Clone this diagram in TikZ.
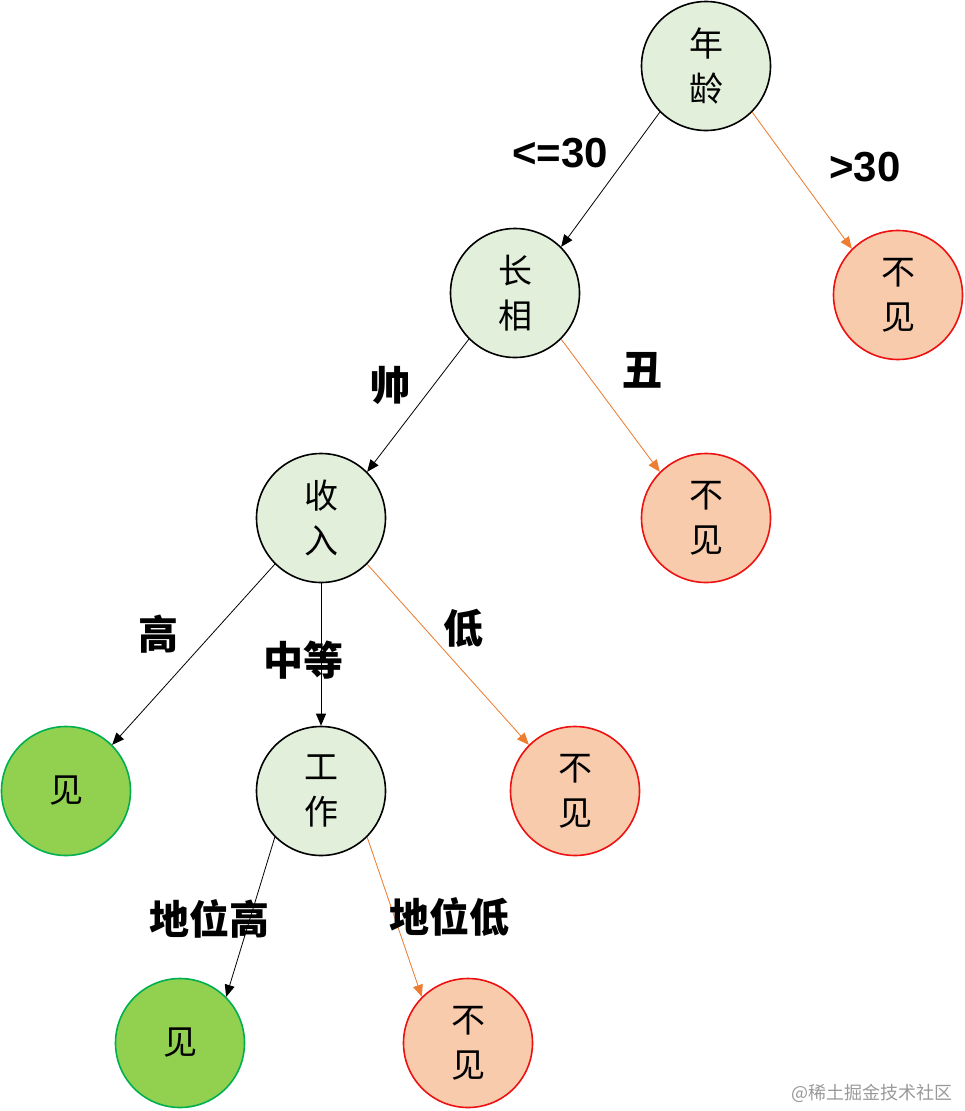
\documentclass[tikz,border=0pt]{standalone}
\usepackage{fontspec}
\newfontfamily\cjk{Noto Sans CJK SC}
\newfontfamily\latinb{Liberation Sans}
\usetikzlibrary{arrows.meta}
\definecolor{innerfill}{HTML}{E2EFDA}
\definecolor{redfill}{HTML}{F8CBAD}
\definecolor{redline}{HTML}{EE1111}
\definecolor{greenfill}{HTML}{92D050}
\definecolor{greenline}{HTML}{00B050}
\definecolor{orangeline}{HTML}{ED7D31}
\tikzset{
  basenode/.style={circle, line width=1.6pt, minimum size=129pt, inner sep=0pt, align=center,
    font=\cjk\fontsize{34}{45}\selectfont},
  inner/.style={basenode, draw=black, fill=innerfill},
  nonode/.style={basenode, draw=redline, fill=redfill},
  yesnode/.style={basenode, draw=greenline, fill=greenfill},
  blackedge/.style={draw=black, line width=0.8pt, -{Triangle[length=12pt,width=10pt]}},
  orangeedge/.style={draw=orangeline, line width=0.8pt, -{Triangle[length=12pt,width=10pt]}, fill=orangeline},
  lab/.style={font=\cjk\bfseries\fontsize{40}{44}\selectfont, inner sep=0pt},
  latlab/.style={font=\latinb\bfseries\fontsize{42}{44}\selectfont, inner sep=0pt},
}
\begin{document}
\begin{tikzpicture}[x=1pt,y=-1pt]
\useasboundingbox (0,0) rectangle (965,1111);
\node[inner] (age) at (706,66) {年\\龄};
\node[inner] (look) at (515,293) {长\\相};
\node[nonode] (no1) at (898,295) {不\\见};
\node[inner] (income) at (321,518) {收\\入};
\node[nonode] (no2) at (706,518) {不\\见};
\node[yesnode] (yes1) at (66,791) {见};
\node[inner] (work) at (321,791) {工\\作};
\node[nonode] (no3) at (575,791) {不\\见};
\node[yesnode] (yes2) at (180,1043) {见};
\node[nonode] (no4) at (468,1043) {不\\见};

\draw[blackedge] (age.south west) -- (look.north east);
\draw[orangeedge] (age.south east) -- (no1.north west);
\draw[blackedge] (look.south west) -- (income.north east);
\draw[orangeedge] (look.south east) -- (no2.north west);
\draw[blackedge] (income.south west) -- (yes1.north east);
\draw[blackedge] (income.south) -- (work.north);
\draw[orangeedge] (income.south east) -- (no3.north west);
\draw[blackedge] (work.south west) -- (yes2.north east);
\draw[orangeedge] (work.south east) -- (no4.north west);

\node[latlab] (l1) at (560,153) {<=30};
\node[latlab] (l2) at (865,167) {>30};
\node[lab] (l3) at (390,385) {帅};
\node[lab] (l4) at (642,370) {丑};
\node[lab] (l5) at (158,634) {高};
\node[lab] (l6) at (303,660) {中等};
\node[lab] (l7) at (463,628) {低};
\node[lab] (l8) at (209,919) {地位高};
\node[lab] (l9) at (449,917) {地位低};
\node[font=\cjk\fontsize{18}{20}\selectfont, text=black!40, inner sep=0pt] (wm) at (872,1093) {@稀土掘金技术社区};
\end{tikzpicture}
\end{document}
